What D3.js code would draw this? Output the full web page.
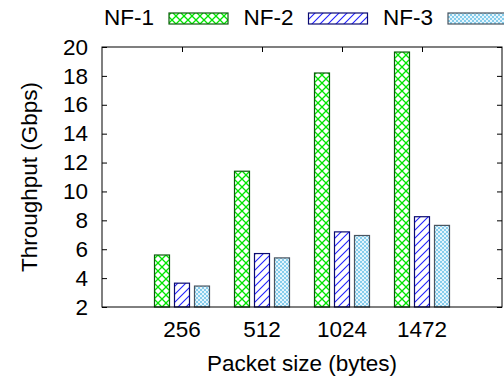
<!DOCTYPE html>
<html>
<head>
<meta charset="utf-8">
<script src="https://cdn.jsdelivr.net/npm/d3@7"></script>
<style>
  body { margin: 0; background: #fff; }
  svg { display: block; font-family: "Liberation Sans", Arial, Helvetica, sans-serif; }
</style>
</head>
<body>
<div id="chart"></div>
<script>
// ---- data ----
const categories = ['256', '512', '1024', '1472'];
const seriesNames = ['NF-1', 'NF-2', 'NF-3'];
const nf1 = [5.6, 11.4, 18.2, 19.65];
const nf2 = [3.65, 5.7, 7.2, 8.25];
const nf3 = [3.45, 5.4, 6.95, 7.65];
const yTicks = [2, 4, 6, 8, 10, 12, 14, 16, 18, 20];

const seriesValues = [nf1, nf2, nf3];

const W = 504, H = 377;
const margin = { top: 47, right: 2, bottom: 70, left: 102 };
const width = W - margin.left - margin.right;
const height = H - margin.top - margin.bottom;
const fontSize = 22.5;

const svg = d3.select('#chart')
  .append('svg')
  .attr('width', W)
  .attr('height', H);

// ---- fill patterns ----
const defs = svg.append('defs');

const p1 = defs.append('pattern')
  .attr('id', 'pat-nf1')
  .attr('patternUnits', 'userSpaceOnUse')
  .attr('width', 8).attr('height', 8);
p1.append('rect').attr('width', 8).attr('height', 8).attr('fill', '#fff');
p1.append('path')
  .attr('d', 'M0,0L8,8M0,8L8,0')
  .attr('stroke', '#00e600')
  .attr('stroke-width', 1.3);

const p2 = defs.append('pattern')
  .attr('id', 'pat-nf2')
  .attr('patternUnits', 'userSpaceOnUse')
  .attr('width', 8).attr('height', 8);
p2.append('rect').attr('width', 8).attr('height', 8).attr('fill', '#fff');
p2.append('path')
  .attr('d', 'M0,8L8,0M-2,2L2,-2M6,10L10,6')
  .attr('stroke', '#2020ff')
  .attr('stroke-width', 1.1);

const p3 = defs.append('pattern')
  .attr('id', 'pat-nf3')
  .attr('patternUnits', 'userSpaceOnUse')
  .attr('width', 4).attr('height', 4);
p3.append('rect').attr('width', 4).attr('height', 4).attr('fill', '#e6f5fc');
p3.append('rect').attr('width', 2).attr('height', 2).attr('fill', '#86cdec');
p3.append('rect').attr('x', 2).attr('y', 2).attr('width', 2).attr('height', 2).attr('fill', '#86cdec');

const fills = ['url(#pat-nf1)', 'url(#pat-nf2)', 'url(#pat-nf3)'];
const borders = ['#0a5c0a', '#0a0a70', '#4a5560'];

const g = svg.append('g')
  .attr('transform', `translate(${margin.left},${margin.top})`);

// ---- scales ----
const x0 = d3.scaleBand()
  .domain(categories)
  .range([0, width])
  .paddingInner(0)
  .paddingOuter(0.5);

const x1 = d3.scaleBand()
  .domain(seriesNames)
  .range([x0.bandwidth() / 8, x0.bandwidth() * 7 / 8])
  .paddingInner(0.25)
  .paddingOuter(0.125);

const y = d3.scaleLinear()
  .domain([2, 20])
  .range([height, 0]);

// ---- axes (ticks point inward, mirrored) ----
const yAxisL = g.append('g')
  .call(d3.axisLeft(y).tickValues(yTicks).tickSizeInner(-5).tickSizeOuter(0).tickPadding(14));
yAxisL.select('.domain').remove();
yAxisL.selectAll('line').attr('stroke', '#000');
yAxisL.selectAll('text')
  .attr('font-size', fontSize)
  .attr('font-family', '"Liberation Sans", Arial, sans-serif')
  .attr('fill', '#000');

const yAxisR = g.append('g')
  .attr('transform', `translate(${width},0)`)
  .call(d3.axisRight(y).tickValues(yTicks).tickSizeInner(-5).tickSizeOuter(0).tickFormat(''));
yAxisR.select('.domain').remove();
yAxisR.selectAll('line').attr('stroke', '#000');

const xCenter = d => x0(d) + x0.bandwidth() / 2;

const xAxisTop = g.append('g')
  .call(d3.axisTop(d3.scalePoint().domain(categories).range([xCenter(categories[0]), xCenter(categories[categories.length - 1])]))
    .tickSizeInner(-5).tickSizeOuter(0).tickFormat(''));
xAxisTop.select('.domain').remove();
xAxisTop.selectAll('line').attr('stroke', '#000');

// x tick labels
g.append('g')
  .selectAll('text')
  .data(categories)
  .join('text')
  .attr('x', d => xCenter(d))
  .attr('y', height + 30)
  .attr('text-anchor', 'middle')
  .attr('font-size', fontSize)
  .attr('fill', '#000')
  .text(d => d);

// ---- bars ----
seriesNames.forEach((name, j) => {
  g.append('g')
    .selectAll('rect')
    .data(categories.map((c, i) => ({ cat: c, value: seriesValues[j][i] })))
    .join('rect')
    .attr('x', d => x0(d.cat) + x1(name))
    .attr('y', d => y(d.value))
    .attr('width', x1.bandwidth())
    .attr('height', d => y(2) - y(d.value))
    .attr('fill', fills[j])
    .attr('stroke', borders[j])
    .attr('stroke-width', 1.2);
});

// ---- frame ----
g.append('rect')
  .attr('x', 0).attr('y', 0)
  .attr('width', width).attr('height', height)
  .attr('fill', 'none')
  .attr('stroke', '#000')
  .attr('stroke-width', 1);

// ---- axis titles ----
svg.append('text')
  .attr('x', margin.left + width / 2)
  .attr('y', 371)
  .attr('text-anchor', 'middle')
  .attr('font-size', fontSize)
  .attr('fill', '#000')
  .text('Packet size (bytes)');

svg.append('text')
  .attr('transform', `translate(37,${margin.top + height / 2}) rotate(-90)`)
  .attr('text-anchor', 'middle')
  .attr('font-size', fontSize)
  .attr('fill', '#000')
  .text('Throughput (Gbps)');

// ---- legend ----
const legend = svg.append('g');
seriesNames.forEach((name, j) => {
  const sx = 169 + j * 139.5;
  legend.append('text')
    .attr('x', sx - 15)
    .attr('y', 25)
    .attr('text-anchor', 'end')
    .attr('font-size', fontSize)
    .attr('fill', '#000')
    .text(name);
  legend.append('rect')
    .attr('x', sx)
    .attr('y', 13)
    .attr('width', 59)
    .attr('height', 11)
    .attr('fill', fills[j])
    .attr('stroke', borders[j])
    .attr('stroke-width', 1.2);
});
</script>
</body>
</html>
